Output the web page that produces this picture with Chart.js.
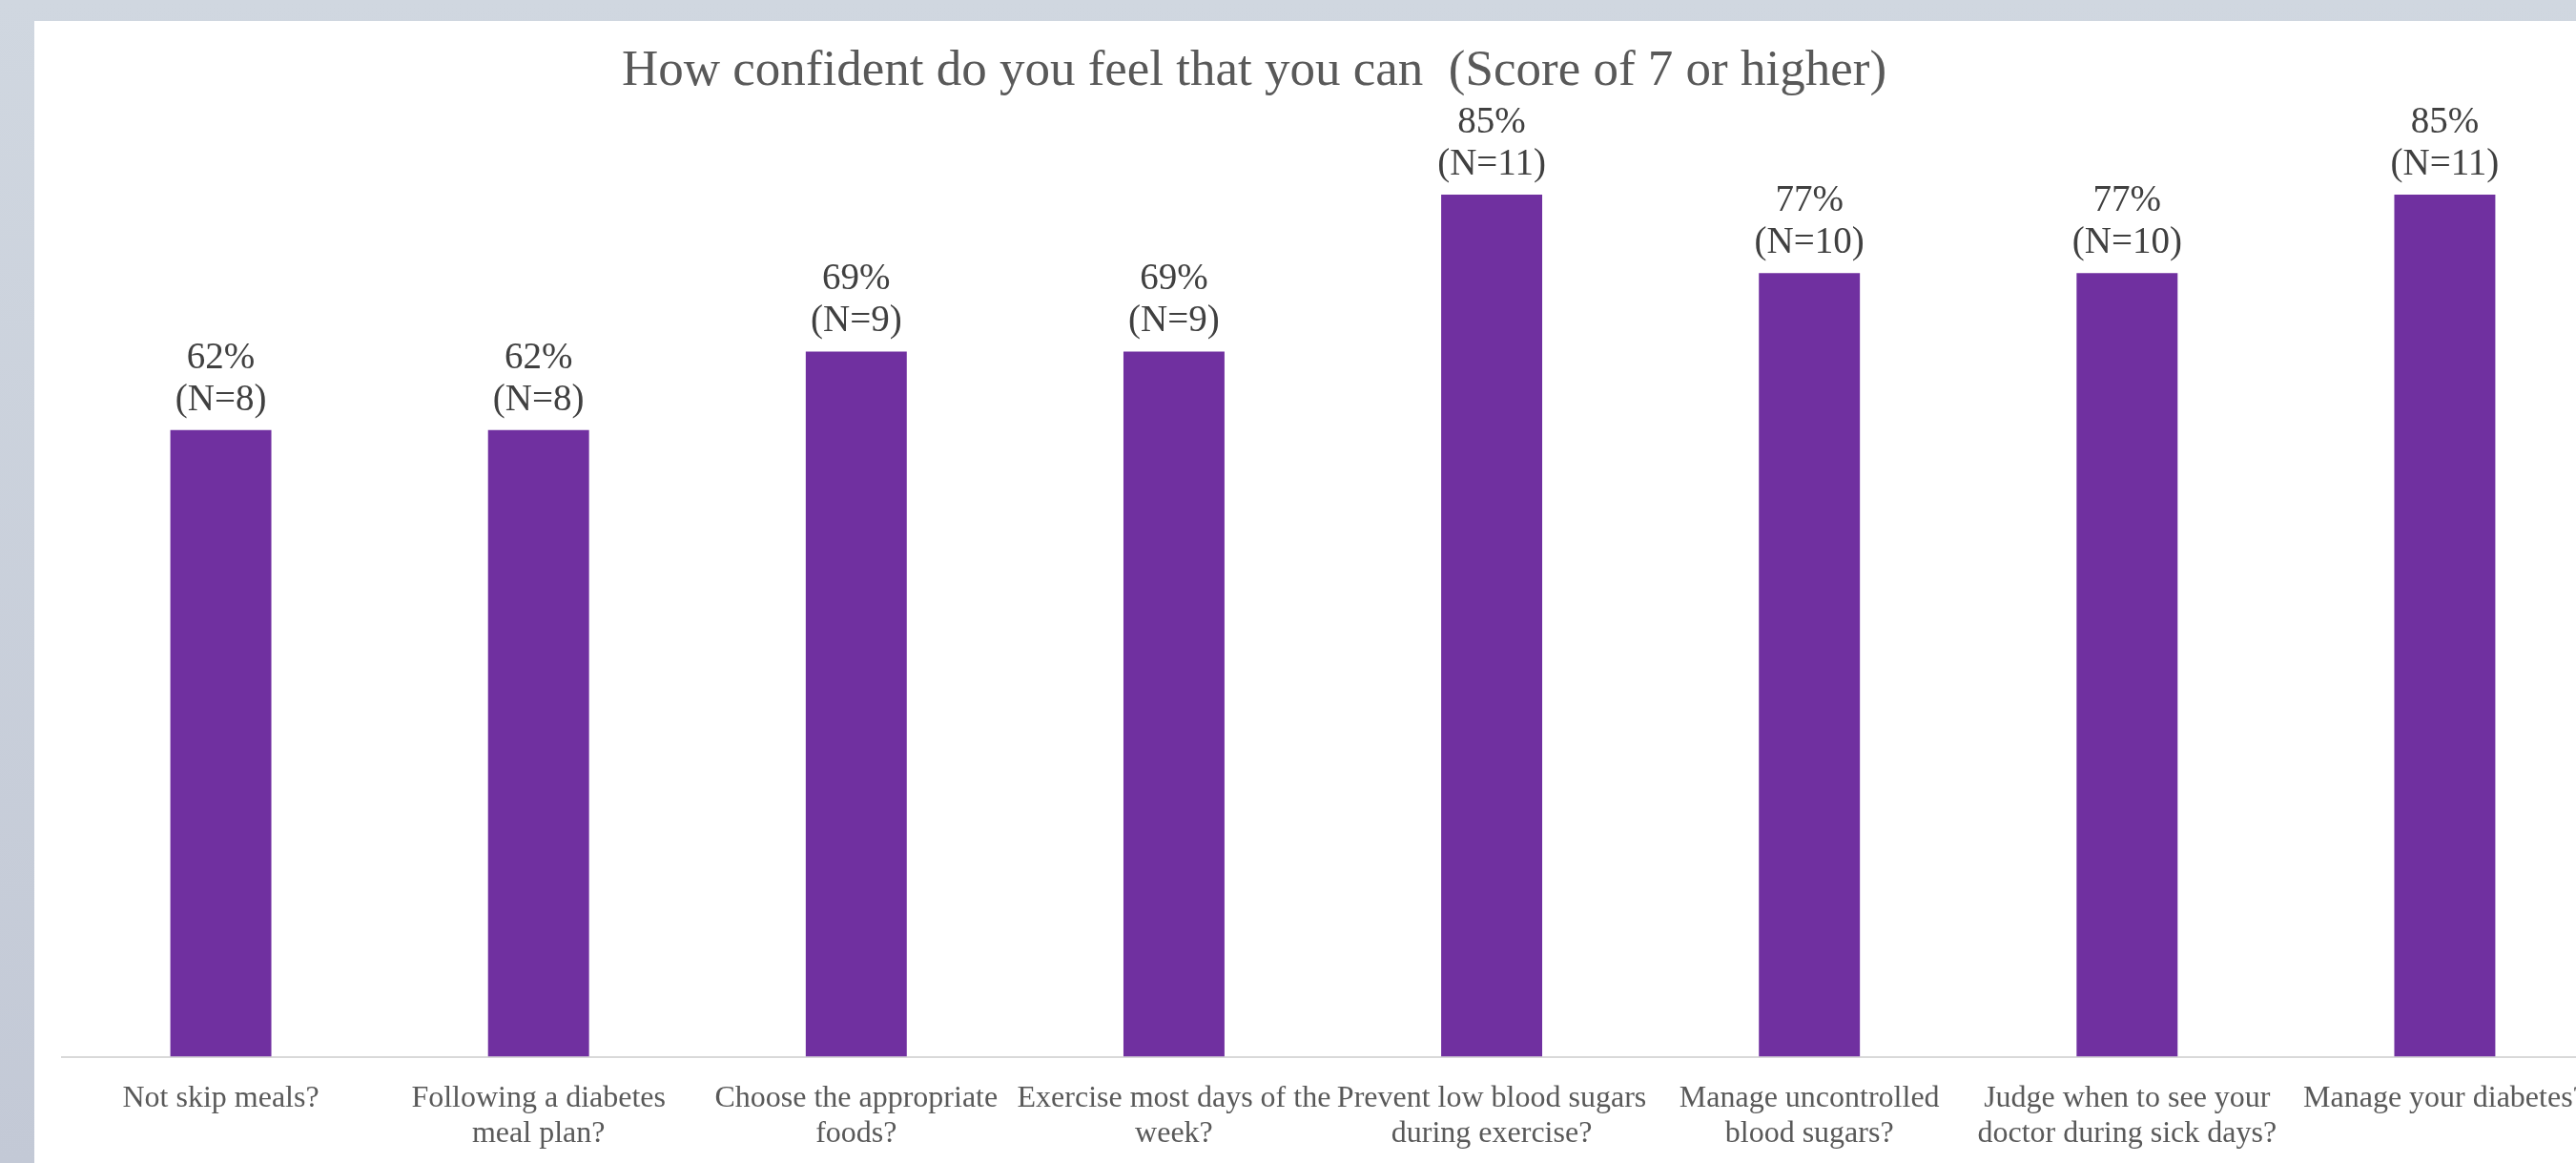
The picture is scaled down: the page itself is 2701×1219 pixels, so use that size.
<!DOCTYPE html>
<html>
<head>
<meta charset="utf-8">
<title>How confident do you feel that you can</title>
<script src="https://cdn.jsdelivr.net/npm/chart.js@4.4.1/dist/chart.umd.min.js"></script>
<style>
  html, body { margin: 0; padding: 0; width: 2701px; height: 1219px; overflow: hidden; }
  body { position: relative; background: linear-gradient(to bottom, #d0d7e0 0%, #c3c9d6 100%); }
  #panel { position: absolute; left: 36px; top: 22px; width: 2700px; height: 1210px; background: #ffffff; }
  #title {
    position: absolute; left: 1279px; top: 23px; transform: translateX(-50%);
    font-family: 'Liberation Serif', 'Times New Roman', serif; font-size: 53px; line-height: 53px;
    color: #595959; white-space: pre;
  }
  #confidenceChart { position: absolute; left: 0; top: 0; }
</style>
</head>
<body>
<div id="panel">
  <canvas id="confidenceChart" width="2694" height="1197"></canvas>
  <div id="title">How confident do you feel that you can  (Score of 7 or higher)</div>
</div>
<script>
// Survey questions (x-axis categories, wrapped like the original)
const questions = [
  ['Not skip meals?'],
  ['Following a diabetes', 'meal plan?'],
  ['Choose the appropriate', 'foods?'],
  ['Exercise most days of the', 'week?'],
  ['Prevent low blood sugars', 'during exercise?'],
  ['Manage uncontrolled', 'blood sugars?'],
  ['Judge when to see your', 'doctor during sick days?'],
  ['Manage your diabetes?']
];

// Share of respondents scoring 7 or higher (out of 13)
const percentValues = [61.5, 61.5, 69.2, 69.2, 84.6, 76.9, 76.9, 84.6];
const respondents = [8, 8, 9, 9, 11, 10, 10, 11];

// Two-line label above each bar: "62%" / "(N=8)"
const barLabels = {
  id: 'barLabels',
  afterDatasetsDraw(chart) {
    const { ctx } = chart;
    const meta = chart.getDatasetMeta(0);
    ctx.save();
    ctx.font = '39px "Liberation Serif"';
    ctx.fillStyle = '#404040';
    ctx.textAlign = 'center';
    ctx.textBaseline = 'alphabetic';
    meta.data.forEach((bar, i) => {
      ctx.fillText(`${Math.round(percentValues[i])}%`, bar.x, bar.y - 65);
      ctx.fillText(`(N=${respondents[i]})`, bar.x, bar.y - 21);
    });
    ctx.restore();
  }
};

const confidenceCtx = document.getElementById('confidenceChart').getContext('2d');
new Chart(confidenceCtx, {
  type: 'bar',
  data: {
    labels: questions,
    datasets: [
      {
        label: 'Score of 7 or higher',
        data: percentValues,
        backgroundColor: '#7030a0',
        categoryPercentage: 1,
        barPercentage: 0.318,
      },
    ],
  },
  options: {
    responsive: false,
    animation: false,
    layout: { padding: { left: 29, top: 17.5, right: 0, bottom: 0 } },
    scales: {
      x: {
        grid: { display: false },
        border: { display: true, color: '#d9d9d9', width: 2 },
        ticks: {
          autoSkip: false,
          maxRotation: 0,
          padding: 18,
          color: '#595959',
          font: { family: 'Liberation Serif', size: 32, lineHeight: 1.15 }
        },
        afterFit: (scale) => { scale.height = 111.5; }
      },
      y: {
        display: false,
        min: 0,
        max: 100
      }
    },
    plugins: {
      legend: { display: false },
      tooltip: { enabled: false }
    }
  },
  plugins: [barLabels]
});
</script>
</body>
</html>
